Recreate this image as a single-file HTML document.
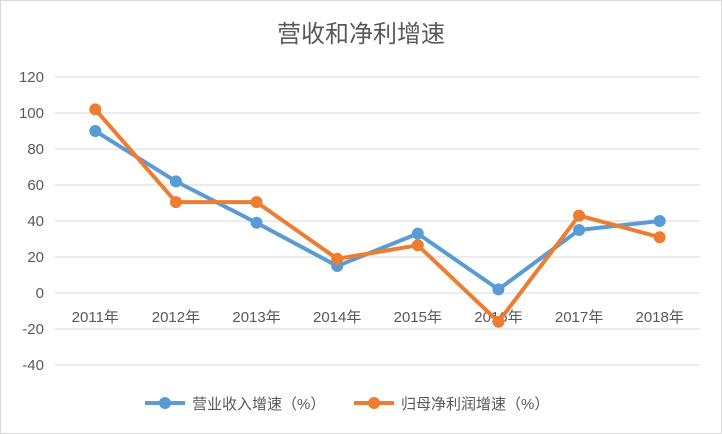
<!DOCTYPE html>
<html><head><meta charset="utf-8"><style>
body{margin:0;background:#fff;}
svg{display:block;font-family:"Liberation Sans","Noto Sans CJK SC",sans-serif;}
</style></head><body>
<svg id="chart" width="722" height="434">
<rect x="0.5" y="0.5" width="721" height="433" fill="#fff" stroke="#d9d9d9"/>
<text x="361" y="42" text-anchor="middle" font-size="24" fill="#595959">营收和净利增速</text>
<g id="grid"></g><g id="yt"></g><g id="xt"></g><g id="series"></g>
<g>
<g>
<line x1="145" y1="403" x2="185" y2="403" stroke="#5b9bd5" stroke-width="4"/><circle cx="165" cy="403" r="6" fill="#5b9bd5"/>
<text x="192" y="409" font-size="15" fill="#595959">营业收入增速（%）</text></g>
<g>
<line x1="354" y1="403" x2="394" y2="403" stroke="#ed7d31" stroke-width="4"/><circle cx="374" cy="403" r="6" fill="#ed7d31"/>
<text x="401" y="409" font-size="15" fill="#595959">归母净利润增速（%）</text></g>
</g>
</svg>
<script>
const categories=["2011年","2012年","2013年","2014年","2015年","2016年","2017年","2018年"];
const revenueGrowth=[90,62,39,15,33,2,35,40];
const profitGrowth=[102,50.5,50.5,19,26.5,-16,43,31];
const yTicks=[-40,-20,0,20,40,60,80,100,120];
const NS="http://www.w3.org/2000/svg";
const x0=55,x1=700,y0=293,ppu=1.8;
const xs=i=>x0+(x1-x0)/categories.length*(i+0.5);
const ys=v=>y0-v*ppu;
function mk(t,a,p){const e=document.createElementNS(NS,t);for(const k in a)e.setAttribute(k,a[k]);p.appendChild(e);return e;}
const grid=document.getElementById('grid'),yt=document.getElementById('yt'),xt=document.getElementById('xt'),ser=document.getElementById('series');
yTicks.forEach(v=>{
const l=mk('line',{x1:x0,x2:x1,y1:ys(v),y2:ys(v),stroke:'#d9d9d9','stroke-width':1},grid);


const t=mk('text',{x:44,y:ys(v)+5,'text-anchor':'end','font-size':15,fill:'#595959'},yt);
t.textContent=v;


});
categories.forEach((c,i)=>{
const t=mk('text',{x:xs(i),y:ys(0)+29,'text-anchor':'middle','font-size':15,fill:'#595959'},xt);
t.textContent=c;


});
function series(vals,color,name){
const g=mk('g',{},ser);


const pl=mk('polyline',{points:vals.map((v,i)=>xs(i)+','+ys(v)).join(' '),fill:'none',stroke:color,'stroke-width':4,'stroke-linejoin':'round'},g);


vals.forEach((v,i)=>{
const c=mk('circle',{cx:xs(i),cy:ys(v),r:6,fill:color},g);


});
}
series(revenueGrowth,'#5b9bd5','revenue-series');
series(profitGrowth,'#ed7d31','profit-series');
</script>
</body></html>
